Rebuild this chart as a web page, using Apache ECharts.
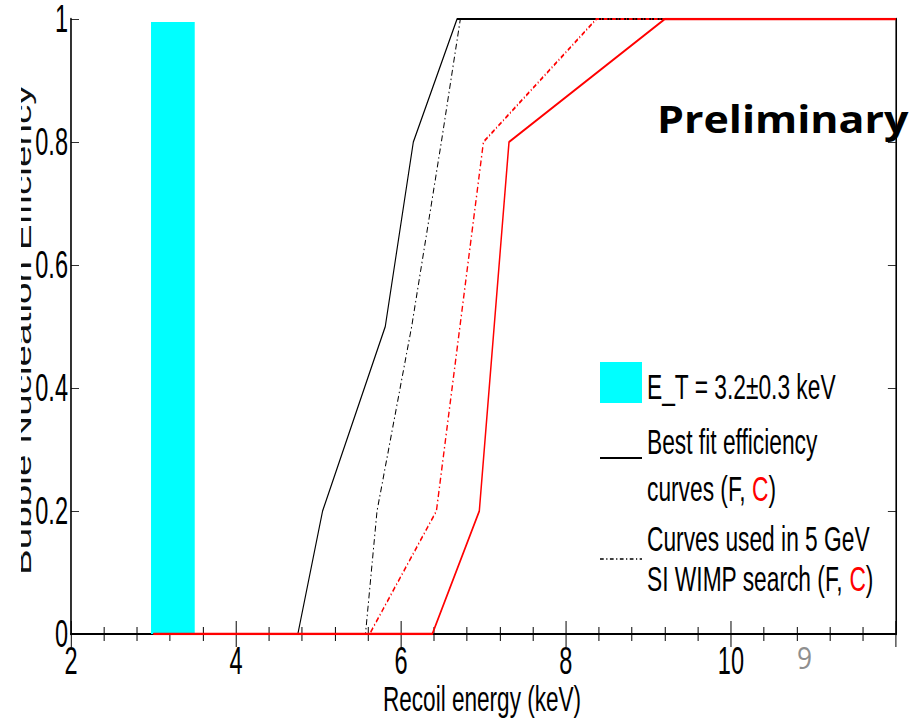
<!DOCTYPE html>
<html>
<head>
<meta charset="utf-8">
<script src="https://cdn.jsdelivr.net/npm/echarts@6/dist/echarts.min.js"></script>
<style>
html,body{margin:0;padding:0;background:#fff;overflow:hidden;}
#wrap{width:914px;height:720px;overflow:hidden;position:relative;}
#c{position:absolute;left:0;top:0;height:720px;transform-origin:0 0;}
</style>
</head>
<body>
<div id="wrap"><div id="c"></div></div>
<script>
// ---- data ----
const xTickLabels = ['2', '4', '6', '8', '10', '12'];
const yTickLabels = ['0', '0.2', '0.4', '0.6', '0.8', '1'];

// threshold band E_T = 3.2 ± 0.3 keV  (x start, x end, top)
const thresholdBand = [2.97, 3.5, 0.995];

// Best fit efficiency curves
const bestFitF_x = [3, 4.75, 5.05, 5.81, 6.15, 6.68, 12];
const bestFitF_y = [0, 0, 0.2, 0.5, 0.8, 1, 1];
const bestFitC_x = [3, 6.38, 6.95, 7.31, 9.2, 12];
const bestFitC_y = [0, 0, 0.2, 0.8, 1, 1];

// Curves used in 5 GeV SI WIMP search
const searchF_x = [3, 5.57, 5.71, 6.13, 6.49, 6.72, 12];
const searchF_y = [0, 0, 0.2, 0.5, 0.8, 1, 1];
const searchC_x = [3, 5.62, 6.43, 7.0, 8.37, 12];
const searchC_y = [0, 0, 0.2, 0.8, 1, 1];

const legendLabels = [
  'E_T = 3.2\u00b10.3 keV',
  'Best fit efficiency',
  'curves (F, {r|C})',
  'Curves used in 5 GeV',
  'SI WIMP search (F, {r|C})'
];

const zip = (xs, ys) => xs.map((x, i) => [x, ys[i]]);

// The original MATLAB figure is horizontally compressed on the slide;
// draw on a wider canvas and compress it with the same factor.
const SQ = 0.62;
const W = Math.round(914 / SQ);
const el = document.getElementById('c');
el.style.width = W + 'px';
el.style.transform = 'scaleX(' + SQ + ')';
const h = v => v / SQ;   // screen-x to chart-x

const SANS = '"Liberation Sans", Arial, Helvetica, sans-serif';

const chart = echarts.init(el, null, {renderer: 'svg', width: W, height: 720});

const tickLabelStyle = {color: '#000', fontFamily: SANS, fontSize: 38, lineHeight: 26};

const legText = (txt, y) => ({
  type: 'text', x: h(647), y: y, scaleX: 1.02, z: 50,
  style: {
    text: txt, fill: '#000', font: '36px ' + SANS,
    align: 'left', verticalAlign: 'middle',
    rich: {r: {fill: '#ff0000', font: '36px ' + SANS}}
  }
});

const option = {
  animation: false,
  backgroundColor: '#fff',
  grid: {left: h(71), right: h(18), top: 18, bottom: 86, containLabel: false},
  xAxis: [{
    type: 'value', min: 2, max: 12, interval: 2, position: 'bottom',
    axisLine: {show: true, lineStyle: {color: '#000', width: 2}},
    axisTick: {show: true, inside: true, length: 13, lineStyle: {color: '#000', width: 1.6}},
    minorTick: {show: true, splitNumber: 5, length: 7, lineStyle: {color: '#000', width: 1.6}},
    splitLine: {show: false},
    axisLabel: Object.assign({
      margin: 14, showMaxLabel: false,
      formatter: (v, i) => xTickLabels[i]
    }, tickLabelStyle)
  }, {
    type: 'value', min: 2, max: 12, interval: 2, position: 'top',
    axisLine: {show: true, lineStyle: {color: '#000', width: 2}},
    axisTick: {show: true, inside: true, length: 13, lineStyle: {color: '#000', width: 1.6}},
    minorTick: {show: true, splitNumber: 5, length: 7, lineStyle: {color: '#000', width: 1.6}},
    splitLine: {show: false},
    axisLabel: {show: false}
  }],
  yAxis: [{
    type: 'value', min: 0, max: 1, interval: 0.2, position: 'left',
    axisLine: {show: true, lineStyle: {color: '#000', width: 2.6}},
    axisTick: {show: true, inside: true, length: h(8), lineStyle: {color: '#000', width: 1}},
    splitLine: {show: false},
    axisLabel: Object.assign({
      margin: h(3),
      formatter: (v, i) => yTickLabels[i]
    }, tickLabelStyle)
  }, {
    type: 'value', min: 0, max: 1, interval: 0.2, position: 'right',
    axisLine: {show: true, lineStyle: {color: '#000', width: 2.6}},
    axisTick: {show: true, inside: true, length: h(8), lineStyle: {color: '#000', width: 1}},
    splitLine: {show: false},
    axisLabel: {show: false}
  }],
  series: [{
    name: 'E_T band', type: 'custom', z: 1,
    data: [thresholdBand],
    renderItem: (params, api) => {
      const p0 = api.coord([api.value(0), api.value(2)]);
      const p1 = api.coord([api.value(1), 0]);
      return {type: 'rect', shape: {x: p0[0], y: p0[1], width: p1[0] - p0[0], height: p1[1] - p0[1]},
              style: {fill: '#00ffff'}};
    }
  }, {
    name: 'Best fit F', type: 'line', symbol: 'none', z: 3,
    data: zip(bestFitF_x, bestFitF_y),
    lineStyle: {color: '#000', width: 1.8}
  }, {
    name: 'Search F', type: 'line', symbol: 'none', z: 3,
    data: zip(searchF_x, searchF_y),
    lineStyle: {color: '#000', width: 1.6, type: [6, 3, 1.5, 3]}
  }, {
    name: 'Search C', type: 'line', symbol: 'none', z: 4,
    data: zip(searchC_x, searchC_y),
    lineStyle: {color: '#ff0000', width: 2.2, type: [6, 3, 1.5, 3]}
  }, {
    name: 'Best fit C', type: 'line', symbol: 'none', z: 5,
    data: zip(bestFitC_x, bestFitC_y),
    lineStyle: {color: '#ff0000', width: 2.4}
  }],
  graphic: [
    // y-axis title (partially clipped at the slide's left edge)
    {type: 'text', x: h(23), y: 575, rotation: Math.PI / 2, z: 10,
     style: {text: 'Bubble Nucleation Efficiency', fill: '#111', font: '38.7px ' + SANS,
             align: 'left', verticalAlign: 'middle'}},
    {type: 'rect', shape: {x: 0, y: 40, width: h(21), height: 560}, style: {fill: '#fff'}, z: 20, silent: true},
    // x-axis title
    {type: 'text', x: h(383), y: 699, scaleX: 1.04, z: 10,
     style: {text: 'Recoil energy (keV)', fill: '#000', font: '35px ' + SANS,
             align: 'left', verticalAlign: 'middle'}},
    // Preliminary (slide overlay, not compressed)
    {type: 'text', x: h(657), y: 118, scaleX: 1.13 / SQ, z: 60,
     style: {text: 'Preliminary', fill: '#000', font: 'bold 38px "Open Sans", sans-serif',
             align: 'left', verticalAlign: 'middle'}},
    // slide number
    {type: 'text', x: h(797), y: 657, scaleX: 0.85 / SQ, z: 10,
     style: {text: '9', fill: '#8f8f8f', font: '31px "Open Sans", sans-serif',
             align: 'left', verticalAlign: 'middle'}},
    // legend
    {type: 'rect', shape: {x: h(600), y: 362, width: h(42), height: 41}, style: {fill: '#00ffff'}, z: 50},
    {type: 'line', shape: {x1: h(600), y1: 458, x2: h(642), y2: 458}, style: {stroke: '#000', lineWidth: 2}, z: 50},
    {type: 'line', shape: {x1: h(600), y1: 559, x2: h(642), y2: 559}, style: {stroke: '#000', lineWidth: 1.5, lineDash: [6, 4, 2, 4]}, z: 50},
    legText(legendLabels[0], 386),
    legText(legendLabels[1], 441),
    legText(legendLabels[2], 488),
    legText(legendLabels[3], 538),
    legText(legendLabels[4], 578)
  ]
};
chart.setOption(option);
</script>
</body>
</html>
